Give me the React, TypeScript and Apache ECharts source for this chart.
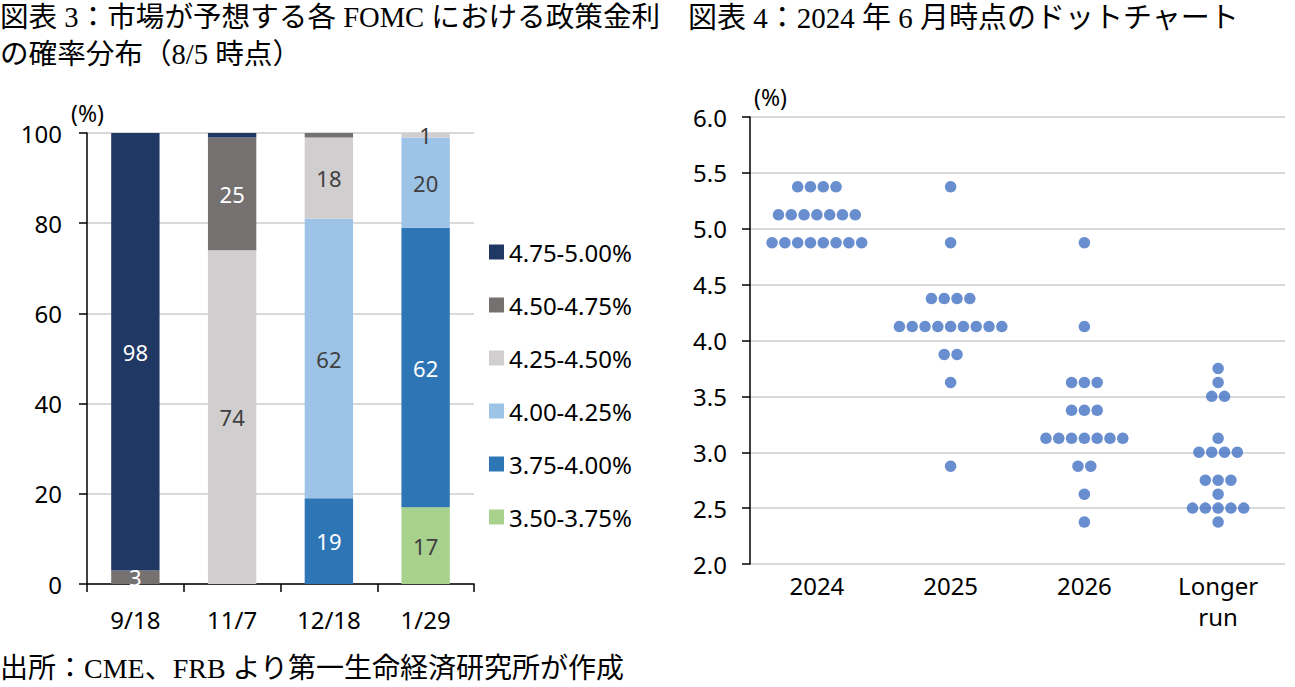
import { useEffect, useRef } from "react";
import * as echarts from "echarts";

// Left panel: market-implied probability of each policy-rate range per FOMC meeting (%)
const meetings = ["9/18", "11/7", "12/18", "1/29"];
const rangeNames = ["3.50-3.75%", "3.75-4.00%", "4.00-4.25%", "4.25-4.50%", "4.50-4.75%", "4.75-5.00%"];
const rangeColors = ["#A9D18E", "#2E75B6", "#9DC3E6", "#D0CECE", "#767171", "#203864"];
const rangeLabelColors = ["#404040", "#FFFFFF", "#404040", "#404040", "#FFFFFF", "#FFFFFF"];
const prob350 = [0, 0, 0, 17];
const prob375 = [0, 0, 19, 62];
const prob400 = [0, 0, 62, 20];
const prob425 = [0, 74, 18, 1];
const prob450 = [3, 25, 1, 0];
const prob475 = [98, 1, 0, 0];
const rangeProbs = [prob350, prob375, prob400, prob425, prob450, prob475];
// thin slivers that carry no value label: [range index, meeting index]
const unlabeledCells = [
  [4, 2],
  [5, 1],
];

// Right panel: June 2024 dot plot, rows of [rate, number of participants]
const dotYears = ["2024", "2025", "2026", "Longer\nrun"];
const dots2024 = [
  [5.375, 4],
  [5.125, 7],
  [4.875, 8],
];
const dots2025 = [
  [5.375, 1],
  [4.875, 1],
  [4.375, 4],
  [4.125, 9],
  [3.875, 2],
  [3.625, 1],
  [2.875, 1],
];
const dots2026 = [
  [4.875, 1],
  [4.125, 1],
  [3.625, 3],
  [3.375, 3],
  [3.125, 7],
  [2.875, 2],
  [2.625, 1],
  [2.375, 1],
];
const dotsLonger = [
  [3.75, 1],
  [3.625, 1],
  [3.5, 2],
  [3.125, 1],
  [3.0, 4],
  [2.75, 3],
  [2.625, 1],
  [2.5, 5],
  [2.375, 1],
];
const dotGroups = [dots2024, dots2025, dots2026, dotsLonger];

const SANS = "'Noto Sans', sans-serif";
const TITLE_FONT = "'Liberation Serif', 'Noto Sans CJK JP', serif";
const GRID_COLOR = "#D9D9D9";
const DOT_STEP = 12.8;
const AXIS_FONT = 24;

export default function App() {
  const ref = useRef<HTMLDivElement>(null);

  useEffect(() => {
    if (!ref.current) return;
    const chart = echarts.init(ref.current, undefined, { renderer: "svg" });

    const barSeries = rangeNames.map((name, si) => ({
      name,
      type: "bar",
      stack: "prob",
      xAxisIndex: 0,
      yAxisIndex: 0,
      barWidth: "50%",
      itemStyle: { color: rangeColors[si] },
      label: {
        show: true,
        position: "inside",
        color: rangeLabelColors[si],
        fontFamily: SANS,
        fontSize: 22,
      },
      data: rangeProbs[si].map((v, mi) => {
        const hidden = v === 0 || unlabeledCells.some(([a, b]) => a === si && b === mi);
        return hidden ? { value: v, label: { show: false } } : { value: v };
      }),
    }));

    // each row of dots is spread sideways around its category centre
    const dotData: any[] = [];
    dotGroups.forEach((rows, ci) => {
      rows.forEach(([rate, count]) => {
        for (let i = 0; i < count; i++) {
          dotData.push({
            value: [ci, rate],
            symbolOffset: [(i - (count - 1) / 2) * DOT_STEP, 0],
          });
        }
      });
    });

    chart.setOption({
      animation: false,
      textStyle: { fontFamily: SANS },
      grid: [
        { left: 87, top: 133, width: 387, height: 451 },
        { left: 750, top: 117, width: 535, height: 447 },
      ],
      legend: {
        orient: "vertical",
        left: 484,
        top: 235,
        itemWidth: 15,
        itemHeight: 15,
        itemGap: 29,
        icon: "rect",
        data: rangeNames.slice().reverse(),
        textStyle: { fontFamily: SANS, fontSize: AXIS_FONT, color: "#000000", lineHeight: 24 },
        selectedMode: false,
      },
      xAxis: [
        {
          type: "category",
          gridIndex: 0,
          data: meetings,
          axisLine: { lineStyle: { color: "#000000", width: 1.5 } },
          axisTick: { show: true, length: 8, lineStyle: { color: "#000000", width: 1.5 } },
          axisLabel: { color: "#000000", fontSize: AXIS_FONT, fontFamily: SANS, margin: 23 },
        },
        {
          type: "category",
          gridIndex: 1,
          data: dotYears,
          axisLine: { show: false },
          axisTick: { show: false },
          axisLabel: {
            color: "#000000",
            fontSize: AXIS_FONT,
            fontFamily: SANS,
            margin: 6,
            lineHeight: 31,
          },
        },
      ],
      yAxis: [
        {
          type: "value",
          gridIndex: 0,
          min: 0,
          max: 100,
          interval: 20,
          axisLine: { show: true, lineStyle: { color: "#000000", width: 1.5 } },
          axisTick: { show: true, length: 8, lineStyle: { color: "#000000", width: 1.5 } },
          axisLabel: { color: "#000000", fontSize: AXIS_FONT, fontFamily: SANS, margin: 25 },
          splitLine: { lineStyle: { color: GRID_COLOR, width: 2 } },
        },
        {
          type: "value",
          gridIndex: 1,
          min: 2,
          max: 6,
          interval: 0.5,
          axisLine: { show: true, lineStyle: { color: "#000000", width: 1.5 } },
          axisTick: { show: true, length: 8, lineStyle: { color: "#000000", width: 1.5 } },
          axisLabel: {
            color: "#000000",
            fontSize: AXIS_FONT,
            fontFamily: SANS,
            margin: 23,
            formatter: (v: number) => v.toFixed(1),
          },
          splitLine: { lineStyle: { color: GRID_COLOR, width: 2 } },
        },
      ],
      series: [
        ...barSeries,
        {
          type: "scatter",
          xAxisIndex: 1,
          yAxisIndex: 1,
          symbol: "circle",
          symbolSize: 11.5,
          itemStyle: { color: "#4472C4" },
          data: dotData,
        },
      ],
      graphic: [
        {
          type: "text",
          left: 0,
          top: 3,
          style: {
            text: "図表 3：市場が予想する各 FOMC における政策金利",
            font: `28.6px ${TITLE_FONT}`,
            fill: "#000000",
          },
        },
        {
          type: "text",
          left: 0,
          top: 40,
          style: {
            text: "の確率分布（8/5 時点）",
            font: `28.6px ${TITLE_FONT}`,
            fill: "#000000",
          },
        },
        {
          type: "text",
          left: 688,
          top: 3,
          style: {
            text: "図表 4：2024 年 6 月時点のドットチャート",
            font: `29px ${TITLE_FONT}`,
            fill: "#000000",
          },
        },
        {
          type: "text",
          left: 0,
          top: 654,
          style: {
            text: "出所：CME、FRB より第一生命経済研究所が作成",
            font: `28px ${TITLE_FONT}`,
            fill: "#000000",
          },
        },
        {
          type: "text",
          left: 71,
          top: 101,
          style: { text: "(%)", font: `23px ${SANS}`, fill: "#000000" },
        },
        {
          type: "text",
          left: 754,
          top: 85,
          style: { text: "(%)", font: `23px ${SANS}`, fill: "#000000" },
        },
      ],
    });

    return () => chart.dispose();
  }, []);

  return (
    <div
      ref={ref}
      style={{ position: "absolute", left: 0, top: 0, width: 1295, height: 687, background: "#FFFFFF" }}
    />
  );
}
